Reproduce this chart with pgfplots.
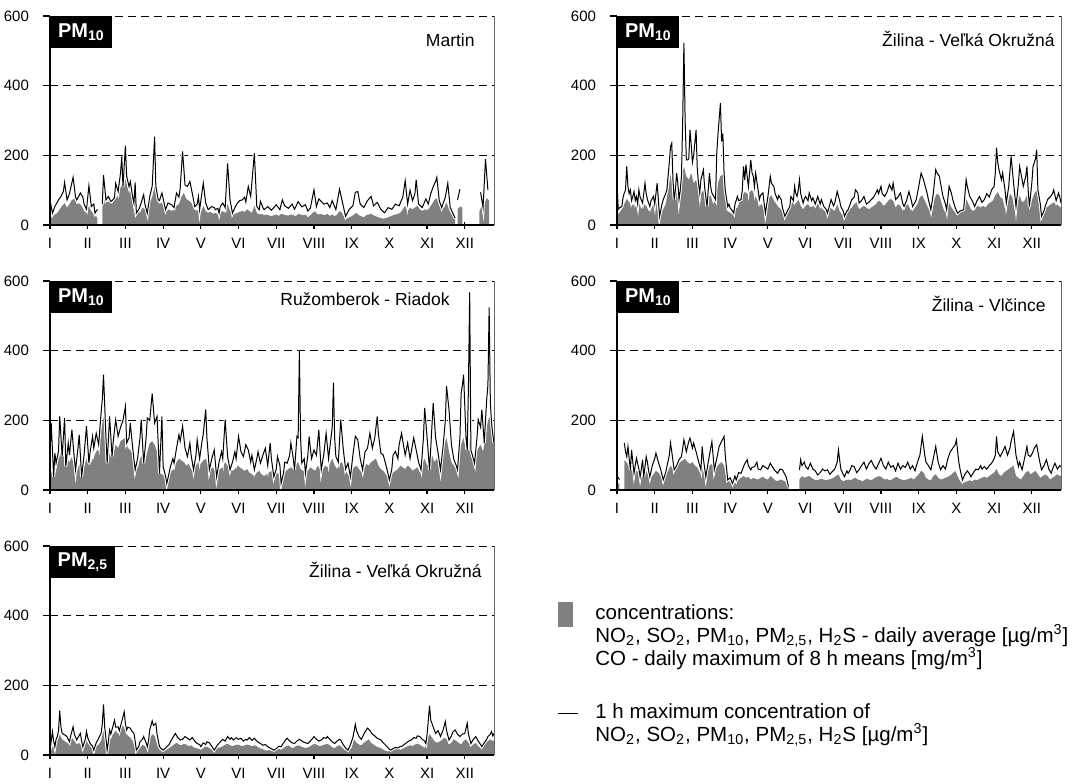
\documentclass[border=0pt]{standalone}
\usepackage{fontspec}
\setmainfont{Liberation Sans}
\usepackage{pgfplots}
\usepackage{pgfplotstable}
\pgfplotsset{compat=1.18}

\definecolor{avgfill}{RGB}{128,128,128}

% ---------- Martin, PM10 ----------
\pgfplotstableread[row sep=\\]{
d v\\
0 72\\ 2 34\\ 4 53\\ 7 72\\ 9 82\\ 11 96\\ 12 122\\ 14 72\\ 16 90\\ 19 137\\ 21 80\\ 22 72\\ 25 92\\ 27 80\\ 28 60\\ 30 45\\ 32 113\\ 34 53\\ 36 60\\ 37 34\\ 39 45\\ 40 nan\\
43 60\\ 44 143\\ 46 72\\ 48 82\\ 50 68\\ 51 70\\ 53 78\\ 54 120\\ 56 96\\ 58 150\\ 59 197\\ 60 110\\ 62 228\\ 63 140\\ 65 110\\ 66 125\\ 68 80\\ 69 63\\ 70 122\\ 71 34\\ 73 45\\ 74 53\\ 77 87\\ 78 60\\ 80 34\\ 82 82\\ 84 111\\ 86 254\\ 87 111\\ 89 72\\ 90 70\\ 92 92\\ 94 60\\ 95 44\\ 97 63\\ 100 58\\ 102 50\\ 103 72\\ 104 92\\ 106 80\\ 107 105\\ 109 211\\ 111 115\\ 113 111\\ 115 125\\ 117 90\\ 118 72\\ 119 53\\ 121 60\\ 122 82\\ 123 44\\ 126 120\\ 128 63\\ 130 44\\ 133 53\\ 135 50\\ 136 44\\ 138 48\\ 139 34\\ 140 53\\ 142 63\\ 144 50\\ 146 177\\ 148 72\\ 150 34\\ 152 50\\ 154 63\\ 156 70\\ 158 72\\ 160 80\\ 161 66\\ 163 111\\ 165 82\\ 168 206\\ 170 53\\ 172 44\\ 173 68\\ 175 50\\ 176 44\\ 179 53\\ 182 42\\ 184 50\\ 186 58\\ 189 44\\ 191 72\\ 193 55\\ 196 48\\ 199 60\\ 201 45\\ 204 67\\ 207 52\\ 210 58\\ 212 40\\ 214 48\\ 217 101\\ 219 53\\ 221 75\\ 223 68\\ 225 60\\ 228 63\\ 230 50\\ 232 70\\ 235 44\\ 238 103\\ 240 72\\ 242 40\\ 243 25\\ 246 45\\ 249 55\\ 251 94\\ 253 96\\ 255 60\\ 258 50\\ 261 70\\ 264 82\\ 266 55\\ 269 65\\ 272 45\\ 275 35\\ 278 50\\ 281 45\\ 284 60\\ 287 55\\ 290 80\\ 292 127\\ 294 60\\ 296 100\\ 298 70\\ 300 90\\ 301 130\\ 303 60\\ 306 50\\ 309 75\\ 311 60\\ 313 90\\ 315 110\\ 317 125\\ 318 137\\ 320 70\\ 322 50\\ 325 80\\ 327 120\\ 329 50\\ 331 35\\ 333 20\\ 334 nan\\
335 72\\ 337 103\\ 338 nan\\
354 94\\ 356 50\\ 358 189\\ 360 100\\
}\maxA
\pgfplotstableread[row sep=\\]{
d v\\
0 20\\ 2 25\\ 4 30\\ 6 35\\ 8 45\\ 10 55\\ 12 63\\ 14 50\\ 16 60\\ 18 72\\ 20 75\\ 22 60\\ 24 62\\ 26 55\\ 28 40\\ 30 35\\ 32 55\\ 34 40\\ 36 30\\ 38 25\\ 39 20\\
43 50\\ 45 72\\ 47 65\\ 49 70\\ 51 60\\ 53 75\\ 55 80\\ 57 95\\ 59 120\\ 61 140\\ 62 130\\ 64 105\\ 66 110\\ 68 70\\ 70 80\\ 72 40\\ 74 35\\ 76 50\\ 78 45\\ 80 40\\ 82 65\\ 84 80\\ 86 111\\ 88 70\\ 90 60\\ 92 65\\ 94 45\\ 96 40\\ 98 45\\ 100 40\\ 102 45\\ 104 55\\ 106 60\\ 108 80\\ 110 92\\ 112 75\\ 114 70\\ 116 65\\ 118 50\\ 120 40\\ 122 45\\ 124 35\\ 126 55\\ 128 40\\ 130 35\\ 132 38\\ 134 32\\ 136 35\\ 138 30\\ 140 35\\ 142 40\\ 144 35\\ 146 60\\ 148 40\\ 150 30\\ 152 32\\ 154 35\\ 156 38\\ 158 40\\ 160 38\\ 162 45\\ 164 40\\ 166 35\\ 168 55\\ 170 35\\ 172 30\\ 174 32\\ 176 28\\ 178 30\\ 180 28\\ 182 25\\ 184 28\\ 186 30\\ 188 26\\ 190 32\\ 192 30\\ 194 28\\ 196 27\\ 198 30\\ 200 28\\ 202 25\\ 204 32\\ 206 30\\ 208 28\\ 210 30\\ 212 22\\ 214 28\\ 216 35\\ 218 40\\ 220 30\\ 222 32\\ 224 30\\ 226 28\\ 228 32\\ 230 26\\ 232 30\\ 234 25\\ 236 30\\ 238 40\\ 240 35\\ 242 20\\ 244 18\\ 246 22\\ 248 25\\ 250 30\\ 252 35\\ 254 28\\ 256 25\\ 258 22\\ 260 28\\ 262 30\\ 264 32\\ 266 28\\ 268 25\\ 270 22\\ 272 20\\ 274 18\\ 276 20\\ 278 22\\ 280 25\\ 282 28\\ 284 30\\ 286 32\\ 288 35\\ 290 45\\ 292 55\\ 294 40\\ 296 50\\ 298 45\\ 300 50\\ 302 55\\ 304 45\\ 306 40\\ 308 45\\ 310 42\\ 312 50\\ 314 60\\ 316 72\\ 318 77\\ 320 55\\ 322 45\\ 324 50\\ 326 65\\ 328 45\\ 330 30\\ 332 20\\ 333 15\\
335 45\\ 337 53\\ 339 50\\
353 40\\ 355 55\\ 357 60\\ 359 77\\ 361 70\\
}\avgA

% ---------- Zilina - Velka Okruzna, PM10 ----------
\pgfplotstableread[row sep=\\]{
d v\\
0 120\\ 1 45\\ 2 49\\ 4 53\\ 5 80\\ 6 92\\ 7 100\\ 8 168\\ 9 110\\ 10 90\\ 11 101\\ 12 70\\ 13 82\\ 14 96\\ 15 70\\ 16 82\\ 17 60\\ 18 101\\ 19 80\\ 21 63\\ 22 90\\ 23 120\\ 24 90\\ 25 73\\ 27 53\\ 28 70\\ 30 82\\ 31 60\\ 33 120\\ 35 25\\ 37 60\\ 38 73\\ 40 90\\ 41 101\\ 43 180\\ 44 225\\ 45 235\\ 46 130\\ 47 73\\ 48 100\\ 49 149\\ 50 120\\ 51 73\\ 52 100\\ 53 140\\ 54 300\\ 55 523\\ 56 300\\ 57 187\\ 58 187\\ 59 190\\ 60 273\\ 61 230\\ 62 180\\ 63 200\\ 65 273\\ 66 160\\ 67 120\\ 68 92\\ 69 130\\ 71 158\\ 72 110\\ 74 53\\ 75 100\\ 76 149\\ 77 110\\ 78 92\\ 80 80\\ 81 73\\ 82 206\\ 83 260\\ 85 350\\ 86 240\\ 87 263\\ 88 150\\ 89 100\\ 91 53\\ 92 60\\ 93 49\\ 95 40\\ 96 34\\ 97 60\\ 99 82\\ 100 70\\ 102 73\\ 103 100\\ 104 168\\ 105 130\\ 106 173\\ 107 140\\ 108 110\\ 109 150\\ 110 187\\ 111 150\\ 112 140\\ 113 110\\ 114 149\\ 116 100\\ 117 73\\ 118 85\\ 120 92\\ 121 60\\ 122 34\\ 124 80\\ 126 140\\ 127 120\\ 129 110\\ 130 90\\ 132 73\\ 133 85\\ 135 73\\ 136 50\\ 138 25\\ 140 40\\ 142 53\\ 143 82\\ 145 70\\ 146 111\\ 147 90\\ 148 82\\ 149 100\\ 150 130\\ 151 90\\ 153 63\\ 154 75\\ 155 82\\ 157 70\\ 158 92\\ 160 70\\ 161 78\\ 163 60\\ 165 82\\ 167 60\\ 168 73\\ 170 53\\ 172 45\\ 173 34\\ 175 60\\ 176 73\\ 178 55\\ 179 63\\ 181 96\\ 183 70\\ 184 53\\ 186 40\\ 187 25\\ 189 40\\ 190 44\\ 192 63\\ 193 73\\ 195 80\\ 196 101\\ 198 92\\ 199 63\\ 201 70\\ 203 82\\ 205 60\\ 207 65\\ 209 73\\ 211 80\\ 214 101\\ 215 90\\ 217 111\\ 218 90\\ 220 82\\ 222 95\\ 224 116\\ 226 100\\ 227 120\\ 229 73\\ 231 80\\ 233 92\\ 235 60\\ 236 53\\ 238 70\\ 240 96\\ 242 70\\ 243 53\\ 245 65\\ 246 73\\ 248 110\\ 250 149\\ 252 130\\ 253 116\\ 255 90\\ 256 73\\ 258 44\\ 260 90\\ 262 159\\ 263 150\\ 265 140\\ 267 100\\ 268 82\\ 270 60\\ 271 44\\ 273 111\\ 275 90\\ 276 73\\ 278 50\\ 280 34\\ 282 40\\ 285 44\\ 287 130\\ 288 110\\ 290 82\\ 292 70\\ 294 53\\ 296 70\\ 298 82\\ 300 65\\ 302 73\\ 304 90\\ 306 80\\ 308 101\\ 310 111\\ 311 150\\ 312 222\\ 313 180\\ 314 159\\ 316 130\\ 317 149\\ 319 100\\ 320 63\\ 322 110\\ 324 197\\ 326 120\\ 328 53\\ 330 120\\ 331 168\\ 333 130\\ 334 111\\ 336 140\\ 337 168\\ 338 100\\ 339 53\\ 341 120\\ 342 168\\ 344 190\\ 345 216\\ 346 101\\ 348 60\\ 349 25\\ 351 40\\ 352 53\\ 354 73\\ 356 80\\ 358 90\\ 359 101\\ 361 70\\ 363 92\\ 364 80\\ 365 63\\
}\maxB
\pgfplotstableread[row sep=\\]{
d v\\
0 30\\ 2 35\\ 4 45\\ 6 60\\ 8 75\\ 10 65\\ 12 55\\ 14 60\\ 16 50\\ 18 65\\ 20 45\\ 22 60\\ 24 55\\ 26 40\\ 28 45\\ 30 60\\ 32 70\\ 34 30\\ 36 35\\ 38 45\\ 40 60\\ 42 100\\ 44 145\\ 46 110\\ 48 120\\ 50 90\\ 52 110\\ 54 150\\ 55 168\\ 57 140\\ 59 130\\ 61 150\\ 63 120\\ 65 130\\ 67 100\\ 69 90\\ 71 100\\ 73 55\\ 75 80\\ 77 85\\ 79 60\\ 81 70\\ 83 120\\ 85 140\\ 87 145\\ 89 90\\ 91 40\\ 93 35\\ 95 30\\ 97 45\\ 99 50\\ 101 70\\ 103 85\\ 105 95\\ 107 90\\ 109 95\\ 111 100\\ 113 85\\ 115 75\\ 117 55\\ 119 60\\ 121 40\\ 123 45\\ 125 80\\ 127 85\\ 129 70\\ 131 60\\ 133 50\\ 135 45\\ 137 30\\ 139 40\\ 141 45\\ 143 60\\ 145 70\\ 147 60\\ 149 75\\ 151 55\\ 153 45\\ 155 55\\ 157 60\\ 159 50\\ 161 55\\ 163 50\\ 165 60\\ 167 55\\ 169 45\\ 171 40\\ 173 30\\ 175 50\\ 177 45\\ 179 40\\ 181 60\\ 183 40\\ 185 30\\ 187 20\\ 189 35\\ 191 45\\ 193 50\\ 195 60\\ 197 65\\ 199 45\\ 201 50\\ 203 55\\ 205 50\\ 207 45\\ 209 50\\ 211 55\\ 213 60\\ 215 70\\ 217 65\\ 219 55\\ 221 60\\ 223 70\\ 225 75\\ 227 70\\ 229 50\\ 231 60\\ 233 55\\ 235 40\\ 237 55\\ 239 60\\ 241 45\\ 243 40\\ 245 50\\ 247 60\\ 249 80\\ 251 85\\ 253 70\\ 255 55\\ 257 40\\ 259 35\\ 261 75\\ 263 90\\ 265 85\\ 267 60\\ 269 40\\ 271 35\\ 273 65\\ 275 50\\ 277 40\\ 279 30\\ 281 35\\ 283 40\\ 285 50\\ 287 75\\ 289 60\\ 291 45\\ 293 40\\ 295 50\\ 297 55\\ 299 50\\ 301 55\\ 303 50\\ 305 60\\ 307 65\\ 309 70\\ 311 85\\ 313 95\\ 315 80\\ 317 75\\ 319 45\\ 321 60\\ 323 90\\ 325 80\\ 327 40\\ 329 60\\ 331 85\\ 333 65\\ 335 70\\ 337 85\\ 339 40\\ 341 70\\ 343 90\\ 345 100\\ 347 60\\ 349 25\\ 351 40\\ 353 50\\ 355 55\\ 357 60\\ 359 65\\ 361 60\\ 363 55\\ 365 50\\
}\avgB

% ---------- Ruzomberok - Riadok, PM10 ----------
\pgfplotstableread[row sep=\\]{
d v\\
0 100\\ 1 192\\ 3 38\\ 4 106\\ 5 77\\ 7 111\\ 8 211\\ 10 96\\ 12 207\\ 13 67\\ 15 135\\ 16 100\\ 18 173\\ 20 90\\ 21 58\\ 23 120\\ 24 159\\ 26 38\\ 28 100\\ 30 183\\ 32 77\\ 33 110\\ 35 154\\ 36 120\\ 38 163\\ 40 130\\ 42 221\\ 43 260\\ 44 331\\ 46 150\\ 47 77\\ 49 211\\ 51 96\\ 52 140\\ 54 202\\ 56 154\\ 58 180\\ 60 200\\ 62 240\\ 63 135\\ 65 150\\ 66 192\\ 68 120\\ 70 58\\ 72 90\\ 74 150\\ 75 202\\ 77 77\\ 79 150\\ 80 207\\ 82 200\\ 84 277\\ 86 192\\ 88 211\\ 90 48\\ 92 211\\ 93 67\\ 95 40\\ 96 19\\ 98 50\\ 99 67\\ 101 90\\ 102 77\\ 104 120\\ 106 159\\ 107 140\\ 109 183\\ 111 120\\ 113 96\\ 115 135\\ 116 100\\ 118 58\\ 120 100\\ 121 144\\ 123 90\\ 125 140\\ 126 160\\ 128 231\\ 129 150\\ 131 58\\ 133 90\\ 135 115\\ 137 38\\ 139 80\\ 141 110\\ 142 90\\ 144 202\\ 146 96\\ 148 58\\ 150 80\\ 152 110\\ 153 90\\ 155 154\\ 157 110\\ 159 96\\ 161 130\\ 163 115\\ 165 80\\ 166 100\\ 168 58\\ 170 90\\ 171 110\\ 173 77\\ 175 100\\ 177 120\\ 179 70\\ 181 135\\ 182 90\\ 184 38\\ 186 60\\ 187 96\\ 189 70\\ 190 19\\ 192 50\\ 193 80\\ 195 77\\ 197 100\\ 198 135\\ 200 90\\ 201 58\\ 203 154\\ 204 150\\ 205 399\\ 206 150\\ 207 77\\ 209 90\\ 210 48\\ 212 100\\ 213 154\\ 215 90\\ 217 115\\ 219 100\\ 221 173\\ 222 110\\ 223 58\\ 225 100\\ 227 163\\ 229 90\\ 231 150\\ 232 180\\ 233 308\\ 234 150\\ 235 96\\ 237 80\\ 238 140\\ 239 202\\ 241 120\\ 243 60\\ 245 77\\ 247 38\\ 249 100\\ 251 154\\ 253 144\\ 255 90\\ 257 58\\ 259 110\\ 261 120\\ 263 163\\ 265 120\\ 267 150\\ 269 211\\ 270 160\\ 272 106\\ 274 100\\ 275 87\\ 277 60\\ 279 29\\ 281 60\\ 282 100\\ 284 111\\ 286 90\\ 287 130\\ 289 163\\ 291 120\\ 292 100\\ 294 135\\ 296 90\\ 298 130\\ 299 150\\ 301 115\\ 303 80\\ 305 58\\ 307 150\\ 308 236\\ 310 150\\ 312 58\\ 313 120\\ 315 250\\ 317 150\\ 319 106\\ 321 58\\ 323 120\\ 325 200\\ 326 298\\ 328 231\\ 330 130\\ 332 87\\ 334 70\\ 335 58\\ 337 150\\ 338 279\\ 339 300\\ 340 331\\ 342 150\\ 343 115\\ 344 300\\ 345 567\\ 346 115\\ 348 90\\ 349 77\\ 351 150\\ 352 202\\ 354 180\\ 355 231\\ 357 135\\ 358 200\\ 359 260\\ 360 300\\ 361 524\\ 362 250\\ 363 192\\ 364 160\\ 365 135\\
}\maxC
\pgfplotstableread[row sep=\\]{
d v\\
0 60\\ 2 45\\ 4 70\\ 6 80\\ 8 100\\ 10 120\\ 12 130\\ 14 90\\ 16 80\\ 18 95\\ 20 60\\ 22 50\\ 24 75\\ 26 55\\ 28 65\\ 30 90\\ 32 70\\ 34 80\\ 36 95\\ 38 110\\ 40 120\\ 42 170\\ 44 211\\ 46 120\\ 48 110\\ 50 95\\ 52 100\\ 54 130\\ 56 120\\ 58 140\\ 60 145\\ 62 150\\ 64 120\\ 66 115\\ 68 100\\ 70 80\\ 72 60\\ 74 90\\ 76 100\\ 78 80\\ 80 110\\ 82 135\\ 84 140\\ 86 130\\ 88 110\\ 90 50\\ 92 45\\ 94 40\\ 96 35\\ 98 45\\ 100 55\\ 102 60\\ 104 80\\ 106 90\\ 108 85\\ 110 80\\ 112 70\\ 114 75\\ 116 60\\ 118 50\\ 120 70\\ 122 80\\ 124 75\\ 126 85\\ 128 90\\ 130 70\\ 132 60\\ 134 65\\ 136 50\\ 138 55\\ 140 60\\ 142 65\\ 144 80\\ 146 70\\ 148 60\\ 150 55\\ 152 60\\ 154 70\\ 156 65\\ 158 60\\ 160 55\\ 162 60\\ 164 50\\ 166 45\\ 168 40\\ 170 50\\ 172 55\\ 174 45\\ 176 40\\ 178 45\\ 180 50\\ 182 55\\ 184 40\\ 186 50\\ 188 45\\ 190 35\\ 192 45\\ 194 55\\ 196 60\\ 198 65\\ 200 60\\ 202 70\\ 204 80\\ 206 60\\ 208 55\\ 210 50\\ 212 55\\ 214 65\\ 216 60\\ 218 55\\ 220 70\\ 222 60\\ 224 55\\ 226 70\\ 228 65\\ 230 75\\ 232 90\\ 234 70\\ 236 60\\ 238 75\\ 240 80\\ 242 60\\ 244 50\\ 246 40\\ 248 55\\ 250 65\\ 252 70\\ 254 60\\ 256 50\\ 258 55\\ 260 75\\ 262 70\\ 264 80\\ 266 85\\ 268 90\\ 270 70\\ 272 60\\ 274 55\\ 276 45\\ 278 35\\ 280 40\\ 282 50\\ 284 55\\ 286 60\\ 288 70\\ 290 65\\ 292 60\\ 294 70\\ 296 65\\ 298 55\\ 300 60\\ 302 65\\ 304 50\\ 306 75\\ 308 90\\ 310 70\\ 312 80\\ 314 100\\ 316 80\\ 318 90\\ 320 75\\ 322 100\\ 324 130\\ 326 150\\ 328 110\\ 330 80\\ 332 70\\ 334 60\\ 336 100\\ 338 130\\ 340 150\\ 342 110\\ 344 180\\ 346 100\\ 348 80\\ 350 100\\ 352 120\\ 354 130\\ 356 110\\ 358 150\\ 360 200\\ 362 211\\ 364 160\\ 365 130\\
}\avgC

% ---------- Zilina - Vlcince, PM10 ----------
\pgfplotstableread[row sep=\\]{
d v\\
0 40\\ 1 35\\ 2 30\\ 3 nan\\
6 135\\ 7 110\\ 8 96\\ 9 125\\ 10 90\\ 11 58\\ 12 115\\ 13 80\\ 14 48\\ 15 70\\ 16 91\\ 18 60\\ 19 38\\ 20 60\\ 21 87\\ 22 38\\ 24 96\\ 25 80\\ 26 55\\ 27 38\\ 29 70\\ 31 90\\ 32 106\\ 34 80\\ 36 58\\ 38 29\\ 40 50\\ 41 67\\ 43 100\\ 44 135\\ 45 110\\ 47 58\\ 49 70\\ 51 87\\ 53 96\\ 54 120\\ 55 144\\ 57 110\\ 58 125\\ 59 140\\ 60 149\\ 62 120\\ 63 135\\ 65 110\\ 66 96\\ 68 70\\ 69 58\\ 70 125\\ 71 90\\ 73 38\\ 75 80\\ 77 120\\ 78 139\\ 80 58\\ 82 90\\ 84 125\\ 86 140\\ 88 154\\ 89 100\\ 91 29\\ 93 35\\ 95 19\\ 97 40\\ 98 29\\ 100 50\\ 102 48\\ 104 67\\ 105 75\\ 107 87\\ 108 70\\ 110 58\\ 111 65\\ 113 67\\ 115 80\\ 116 60\\ 118 58\\ 120 70\\ 122 65\\ 124 60\\ 126 77\\ 128 65\\ 130 55\\ 132 48\\ 134 60\\ 136 58\\ 138 45\\ 139 38\\ 141 10\\ 142 nan\\
150 58\\ 151 87\\ 152 70\\ 154 80\\ 155 67\\ 157 60\\ 159 77\\ 161 60\\ 163 55\\ 165 43\\ 167 50\\ 169 60\\ 171 55\\ 173 58\\ 175 45\\ 177 53\\ 179 60\\ 181 80\\ 182 115\\ 184 60\\ 186 45\\ 187 38\\ 189 55\\ 190 48\\ 192 60\\ 193 70\\ 195 67\\ 197 50\\ 199 58\\ 201 70\\ 203 80\\ 205 60\\ 207 75\\ 209 85\\ 211 70\\ 213 60\\ 215 75\\ 217 91\\ 219 70\\ 221 60\\ 223 80\\ 225 65\\ 227 70\\ 229 55\\ 231 77\\ 233 60\\ 235 70\\ 237 65\\ 239 80\\ 241 60\\ 243 70\\ 245 55\\ 247 80\\ 249 100\\ 251 154\\ 253 100\\ 254 80\\ 256 70\\ 258 58\\ 260 90\\ 262 125\\ 264 80\\ 266 58\\ 268 70\\ 270 60\\ 272 90\\ 274 110\\ 276 120\\ 278 130\\ 279 144\\ 281 80\\ 282 60\\ 284 29\\ 286 45\\ 288 55\\ 290 45\\ 291 38\\ 293 50\\ 295 60\\ 297 58\\ 299 70\\ 300 60\\ 302 67\\ 304 60\\ 306 70\\ 308 77\\ 310 90\\ 311 100\\ 312 154\\ 313 110\\ 315 96\\ 317 110\\ 319 125\\ 321 100\\ 323 120\\ 324 140\\ 326 168\\ 328 100\\ 330 67\\ 331 80\\ 333 58\\ 335 90\\ 337 125\\ 338 100\\ 340 96\\ 342 110\\ 343 120\\ 345 130\\ 347 90\\ 349 58\\ 351 70\\ 353 87\\ 355 60\\ 357 48\\ 358 60\\ 360 77\\ 362 60\\ 364 70\\ 365 67\\
}\maxD
\pgfplotstableread[row sep=\\]{
d v\\
0 20\\ 2 18\\
6 85\\ 8 80\\ 10 70\\ 12 60\\ 14 45\\ 16 55\\ 18 50\\ 20 40\\ 22 45\\ 24 55\\ 26 40\\ 28 35\\ 30 45\\ 32 55\\ 34 50\\ 36 40\\ 38 30\\ 40 45\\ 42 55\\ 44 70\\ 46 60\\ 48 65\\ 50 75\\ 52 80\\ 54 85\\ 56 90\\ 58 80\\ 60 75\\ 62 80\\ 64 70\\ 66 65\\ 68 50\\ 70 60\\ 72 45\\ 74 55\\ 76 70\\ 78 75\\ 80 60\\ 82 65\\ 84 75\\ 86 80\\ 88 70\\ 90 30\\ 92 25\\ 94 20\\ 96 18\\ 98 22\\ 100 30\\ 102 35\\ 104 40\\ 106 35\\ 108 38\\ 110 30\\ 112 35\\ 114 32\\ 116 30\\ 118 35\\ 120 38\\ 122 32\\ 124 30\\ 126 40\\ 128 35\\ 130 28\\ 132 25\\ 134 30\\ 136 28\\ 138 25\\ 140 15\\ 141 10\\
150 30\\ 152 40\\ 154 35\\ 156 38\\ 158 40\\ 160 35\\ 162 30\\ 164 28\\ 166 30\\ 168 32\\ 170 30\\ 172 28\\ 174 30\\ 176 32\\ 178 35\\ 180 40\\ 182 45\\ 184 30\\ 186 25\\ 188 28\\ 190 30\\ 192 28\\ 194 32\\ 196 35\\ 198 30\\ 200 28\\ 202 25\\ 204 30\\ 206 32\\ 208 28\\ 210 30\\ 212 35\\ 214 38\\ 216 40\\ 218 35\\ 220 30\\ 222 32\\ 224 28\\ 226 30\\ 228 35\\ 230 38\\ 232 32\\ 234 30\\ 236 28\\ 238 30\\ 240 32\\ 242 35\\ 244 30\\ 246 38\\ 248 45\\ 250 55\\ 252 50\\ 254 35\\ 256 30\\ 258 28\\ 260 40\\ 262 45\\ 264 35\\ 266 30\\ 268 32\\ 270 35\\ 272 38\\ 274 42\\ 276 48\\ 278 55\\ 280 40\\ 282 25\\ 284 20\\ 286 22\\ 288 25\\ 290 28\\ 292 25\\ 294 30\\ 296 28\\ 298 32\\ 300 35\\ 302 38\\ 304 35\\ 306 40\\ 308 45\\ 310 50\\ 312 60\\ 314 45\\ 316 40\\ 318 50\\ 320 55\\ 322 60\\ 324 65\\ 326 70\\ 328 40\\ 330 35\\ 332 30\\ 334 40\\ 336 50\\ 338 55\\ 340 45\\ 342 50\\ 344 55\\ 346 45\\ 348 35\\ 350 40\\ 352 45\\ 354 40\\ 356 30\\ 358 35\\ 360 40\\ 362 45\\ 364 40\\ 365 42\\
}\avgD

% ---------- Zilina - Velka Okruzna, PM2.5 ----------
\pgfplotstableread[row sep=\\]{
d v\\
0 14\\ 1 40\\ 2 67\\ 3 40\\ 4 24\\ 5 45\\ 6 53\\ 7 70\\ 8 127\\ 9 80\\ 10 62\\ 12 58\\ 14 53\\ 15 45\\ 16 38\\ 17 55\\ 19 81\\ 20 60\\ 22 43\\ 23 50\\ 25 62\\ 26 40\\ 27 24\\ 29 45\\ 30 68\\ 31 50\\ 33 33\\ 35 25\\ 36 14\\ 38 35\\ 40 48\\ 42 62\\ 43 90\\ 44 145\\ 45 80\\ 47 14\\ 48 40\\ 49 72\\ 50 60\\ 52 86\\ 53 100\\ 54 80\\ 56 81\\ 57 70\\ 59 96\\ 60 110\\ 61 124\\ 62 90\\ 63 72\\ 64 80\\ 66 77\\ 67 70\\ 69 62\\ 70 40\\ 71 14\\ 73 25\\ 74 38\\ 76 45\\ 77 53\\ 79 35\\ 80 24\\ 81 40\\ 82 72\\ 84 98\\ 85 85\\ 87 91\\ 88 60\\ 90 24\\ 91 20\\ 93 14\\ 95 20\\ 96 24\\ 98 30\\ 99 38\\ 101 50\\ 103 62\\ 105 50\\ 107 43\\ 109 45\\ 111 53\\ 113 48\\ 115 43\\ 117 50\\ 119 40\\ 121 33\\ 123 30\\ 124 24\\ 126 35\\ 128 30\\ 129 38\\ 131 35\\ 133 25\\ 135 14\\ 137 25\\ 138 30\\ 140 38\\ 142 45\\ 144 40\\ 146 53\\ 148 45\\ 149 50\\ 151 43\\ 153 50\\ 155 45\\ 157 48\\ 159 40\\ 161 45\\ 162 43\\ 164 50\\ 166 42\\ 168 48\\ 170 40\\ 172 35\\ 173 33\\ 175 28\\ 177 30\\ 179 24\\ 181 20\\ 182 18\\ 184 14\\ 186 18\\ 188 25\\ 190 24\\ 192 35\\ 194 45\\ 195 48\\ 197 40\\ 199 35\\ 201 33\\ 203 40\\ 205 45\\ 206 43\\ 208 38\\ 210 35\\ 212 33\\ 214 40\\ 216 48\\ 217 53\\ 219 45\\ 221 40\\ 223 43\\ 225 50\\ 227 48\\ 228 53\\ 230 45\\ 232 38\\ 234 33\\ 236 40\\ 238 45\\ 239 43\\ 241 30\\ 243 20\\ 245 14\\ 247 30\\ 249 50\\ 251 88\\ 252 70\\ 254 53\\ 256 45\\ 258 60\\ 260 72\\ 261 77\\ 263 70\\ 265 60\\ 267 55\\ 269 48\\ 271 45\\ 272 43\\ 274 35\\ 276 28\\ 278 20\\ 280 14\\ 282 18\\ 284 22\\ 286 20\\ 288 25\\ 289 24\\ 291 30\\ 293 35\\ 295 40\\ 297 43\\ 299 50\\ 301 48\\ 302 55\\ 304 53\\ 306 45\\ 308 40\\ 309 33\\ 310 60\\ 311 100\\ 312 142\\ 313 100\\ 315 81\\ 317 62\\ 319 70\\ 321 53\\ 323 70\\ 325 96\\ 326 70\\ 328 43\\ 330 55\\ 331 65\\ 333 72\\ 335 60\\ 337 53\\ 339 60\\ 341 62\\ 343 91\\ 344 60\\ 346 33\\ 348 45\\ 350 53\\ 352 40\\ 354 30\\ 355 24\\ 357 35\\ 359 45\\ 360 53\\ 362 60\\ 363 67\\ 364 55\\ 365 62\\
}\maxE
\pgfplotstableread[row sep=\\]{
d v\\
0 10\\ 3 30\\ 6 40\\ 8 60\\ 10 45\\ 12 40\\ 14 35\\ 16 30\\ 18 50\\ 20 40\\ 22 30\\ 24 35\\ 26 25\\ 28 20\\ 30 40\\ 32 30\\ 34 20\\ 36 15\\ 38 25\\ 40 30\\ 42 40\\ 44 70\\ 46 20\\ 48 40\\ 50 50\\ 52 60\\ 54 70\\ 56 60\\ 58 75\\ 60 85\\ 62 70\\ 64 55\\ 66 50\\ 68 40\\ 70 20\\ 72 15\\ 74 20\\ 76 30\\ 78 25\\ 80 20\\ 82 45\\ 84 60\\ 86 55\\ 88 30\\ 90 15\\ 92 10\\ 94 12\\ 96 15\\ 98 20\\ 100 25\\ 102 30\\ 104 35\\ 106 30\\ 108 28\\ 110 32\\ 112 30\\ 114 25\\ 116 28\\ 118 22\\ 120 20\\ 122 18\\ 124 15\\ 126 20\\ 128 25\\ 130 22\\ 132 18\\ 134 12\\ 136 15\\ 138 20\\ 140 22\\ 142 25\\ 144 30\\ 146 32\\ 148 28\\ 150 25\\ 152 28\\ 154 30\\ 156 28\\ 158 25\\ 160 28\\ 162 30\\ 164 28\\ 166 25\\ 168 28\\ 170 25\\ 172 20\\ 174 18\\ 176 15\\ 178 12\\ 180 15\\ 182 12\\ 184 10\\ 186 15\\ 188 18\\ 190 15\\ 192 20\\ 194 25\\ 196 28\\ 198 22\\ 200 20\\ 202 25\\ 204 28\\ 206 25\\ 208 22\\ 210 20\\ 212 22\\ 214 25\\ 216 30\\ 218 32\\ 220 28\\ 222 25\\ 224 28\\ 226 30\\ 228 32\\ 230 28\\ 232 22\\ 234 20\\ 236 25\\ 238 28\\ 240 22\\ 242 15\\ 244 12\\ 246 15\\ 248 20\\ 250 45\\ 252 35\\ 254 30\\ 256 28\\ 258 35\\ 260 40\\ 262 45\\ 264 35\\ 266 30\\ 268 25\\ 270 22\\ 272 20\\ 274 15\\ 276 12\\ 278 10\\ 280 12\\ 282 15\\ 284 18\\ 286 20\\ 288 15\\ 290 18\\ 292 22\\ 294 25\\ 296 28\\ 298 25\\ 300 30\\ 302 32\\ 304 30\\ 306 25\\ 308 20\\ 310 45\\ 312 60\\ 314 50\\ 316 40\\ 318 35\\ 320 38\\ 322 42\\ 324 50\\ 326 45\\ 328 30\\ 330 35\\ 332 45\\ 334 40\\ 336 35\\ 338 30\\ 340 40\\ 342 45\\ 344 35\\ 346 25\\ 348 30\\ 350 35\\ 352 25\\ 354 20\\ 356 30\\ 358 35\\ 360 40\\ 362 45\\ 364 40\\ 365 42\\
}\avgE

\pgfplotsset{
  panel/.style={
    scale only axis, width=222pt, height=104.5pt,
    anchor=south west,
    xmin=0, xmax=365, ymin=0, ymax=600,
    xtick={0,31,62,93,124,155,186,217,248,279,310,341},
    xticklabels={I,II,III,IV,V,VI,VII,VIII,IX,X,XI,XII},
    ytick={0,200,400,600},
    xtick pos=left, ytick pos=left,
    xtick align=center, ytick align=outside,
    major tick length=3.5pt,
    every tick/.style={black, line width=0.6pt},
    ymajorgrids,
    grid style={black, line width=0.5pt, dash pattern=on 4pt off 2.5pt},
    axis line style={draw=none},
    tick label style={font=\fontsize{7.5}{8.5}\selectfont},
    xticklabel style={yshift=-1.5pt},
    yticklabel style={xshift=-3.5pt},
    /pgf/number format/assume math mode=true,
    clip=false,
  },
  avg/.style={fill=avgfill, draw=none},
  halo/.style={white, line width=1.5pt, unbounded coords=jump},
  hmax/.style={black, line width=0.5pt, unbounded coords=jump},
}
\tikzset{
  pmbox/.style={fill=black, text=white, anchor=north west, inner sep=0pt,
    minimum width=31pt, minimum height=16pt,
    font=\fontsize{10}{12}\selectfont\bfseries},
}

\newcommand{\frameaxis}{%
  \draw[black!60, line width=0.4pt] (rel axis cs:1,0) -- (rel axis cs:1,1);
  \draw[black, line width=0.9pt] (rel axis cs:0,1) -- (rel axis cs:0,0) -- (rel axis cs:1,0);
}

\begin{document}
\begin{tikzpicture}
\path[use as bounding box] (0,0) rectangle (540.5pt,391.5pt);

% Martin
\begin{axis}[panel, at={(25pt,279pt)}]
  \addplot[avg] table[x=d, y=v, restrict x to domain=0:39] {\avgA} \closedcycle;
  \addplot[avg] table[x=d, y=v, restrict x to domain=43:333] {\avgA} \closedcycle;
  \addplot[avg] table[x=d, y=v, restrict x to domain=335:339] {\avgA} \closedcycle;
  \addplot[avg] table[x=d, y=v, restrict x to domain=353:361] {\avgA} \closedcycle;
  \addplot[halo] table[x=d, y=v] {\maxA};
  \addplot[hmax] table[x=d, y=v] {\maxA};
  \frameaxis
  \node[pmbox] at (rel axis cs:0,1) {PM\textsubscript{10}};
\end{axis}

% Zilina - Velka Okruzna, PM10
\begin{axis}[panel, at={(308.5pt,279pt)}]
  \addplot[avg] table[x=d, y=v] {\avgB} \closedcycle;
  \addplot[halo] table[x=d, y=v] {\maxB};
  \addplot[hmax] table[x=d, y=v] {\maxB};
  \frameaxis
  \node[pmbox] at (rel axis cs:0,1) {PM\textsubscript{10}};
\end{axis}

% Ruzomberok - Riadok
\begin{axis}[panel, at={(25pt,146.5pt)}]
  \addplot[avg] table[x=d, y=v] {\avgC} \closedcycle;
  \addplot[halo] table[x=d, y=v] {\maxC};
  \addplot[hmax] table[x=d, y=v] {\maxC};
  \frameaxis
  \node[pmbox] at (rel axis cs:0,1) {PM\textsubscript{10}};
\end{axis}

% Zilina - Vlcince
\begin{axis}[panel, at={(308.5pt,146.5pt)}]
  \addplot[avg] table[x=d, y=v, restrict x to domain=0:2] {\avgD} \closedcycle;
  \addplot[avg] table[x=d, y=v, restrict x to domain=6:141] {\avgD} \closedcycle;
  \addplot[avg] table[x=d, y=v, restrict x to domain=150:365] {\avgD} \closedcycle;
  \addplot[halo] table[x=d, y=v] {\maxD};
  \addplot[hmax] table[x=d, y=v] {\maxD};
  \frameaxis
  \node[pmbox] at (rel axis cs:0,1) {PM\textsubscript{10}};
\end{axis}

% Zilina - Velka Okruzna, PM2.5
\begin{axis}[panel, at={(25pt,14pt)}]
  \addplot[avg] table[x=d, y=v] {\avgE} \closedcycle;
  \addplot[halo] table[x=d, y=v] {\maxE};
  \addplot[hmax] table[x=d, y=v] {\maxE};
  \frameaxis
  \node[pmbox, minimum width=32.5pt] at (rel axis cs:0,1) {PM\textsubscript{2,5}};
\end{axis}

% station names
\begin{scope}[every node/.style={anchor=base east, inner sep=0pt, font=\fontsize{8.75}{10}\selectfont}]
  \node at (237.5pt,368pt) {Martin};
  \node at (527.5pt,368pt) {Žilina - Veľká Okružná};
  \node at (225pt,238.5pt) {Ružomberok - Riadok};
  \node at (523pt,236pt) {Žilina - Vlčince};
  \node at (241pt,103pt) {Žilina - Veľká Okružná};
\end{scope}

% legend
\fill[avgfill] (279pt,78pt) rectangle (286.5pt,90.5pt);
\draw[black, line width=0.5pt] (279pt,35pt) -- (289pt,35pt);
\begin{scope}[every node/.style={anchor=base west, inner sep=0pt, font=\fontsize{10.25}{12}\selectfont}]
  \node at (297.5pt,82pt) {concentrations:};
  \node at (297.5pt,70.5pt) {NO\textsubscript{2}, SO\textsubscript{2}, PM\textsubscript{10}, PM\textsubscript{2,5}, H\textsubscript{2}S - daily average [µg/m\textsuperscript{3}]};
  \node at (297.5pt,59pt) {CO - daily maximum of 8 h means [mg/m\textsuperscript{3}]};
  \node at (297.5pt,32.5pt) {1 h maximum concentration of};
  \node at (297.5pt,21pt) {NO\textsubscript{2}, SO\textsubscript{2}, PM\textsubscript{10}, PM\textsubscript{2,5}, H\textsubscript{2}S [µg/m\textsuperscript{3}]};
\end{scope}
\end{tikzpicture}
\end{document}
